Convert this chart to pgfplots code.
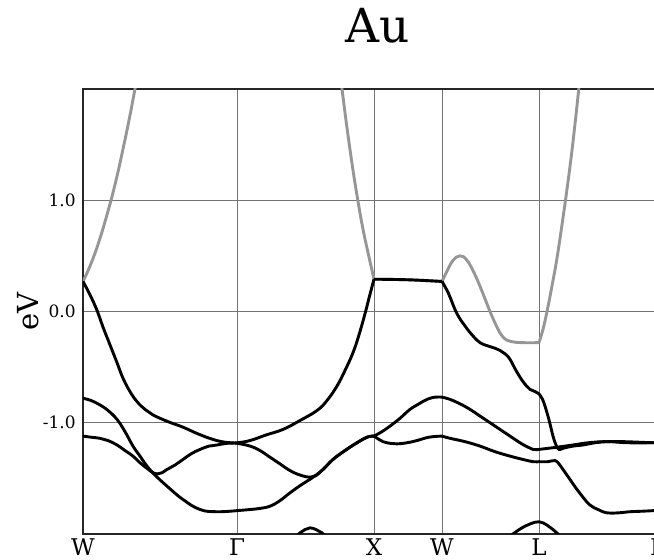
\documentclass[border=0pt]{standalone}
\usepackage{fontspec}
\setmainfont{DejaVu Serif}
\usepackage{pgfplots}
\pgfplotsset{compat=1.18}
\definecolor{bandgray}{RGB}{150,150,150}
\begin{document}
\begin{tikzpicture}
\begin{axis}[
  at={(0,0)}, anchor=south west,
  scale only axis, width=294.5pt, height=222.5pt,
  xmin=0, xmax=589, ymin=-2, ymax=2,
  xtick={0,154,291,359,456,575},
  xticklabels={W,Γ,X,W,L,Γ},
  ytick={-1,0,1}, yticklabels={-1.0,0.0,1.0},
  major tick length=0pt,
  grid=major, grid style={black!55, line width=0.5pt},
  axis line style={black!85, line width=0.7pt},
  xticklabel style={font=\fontsize{11.5}{13}\selectfont, inner sep=0pt, anchor=north, yshift=-2pt},
  yticklabel style={font=\fontsize{8.5}{10}\selectfont, inner sep=0pt, anchor=east, xshift=-3.5pt},
  title={Au}, title style={font=\fontsize{23.5}{26}\selectfont, at={(axis description cs:0.5,1.1034)}, anchor=base, inner sep=0pt, yshift=-6pt},
  ylabel={eV}, ylabel style={font=\fontsize{14.5}{16}\selectfont, at={(axis description cs:-0.0934,0.5)}, anchor=center, inner sep=0pt},
  no markers,
  every axis plot/.append style={line width=1.45pt, smooth, tension=0.7},
]
% gray band
\addplot[bandgray] coordinates {(0,0.27)(8,0.43)(16,0.63)(24,0.87)(32,1.14)(40,1.46)(48,1.81)(56,2.2)};
\addplot[bandgray] coordinates {(255,2.28)(259,2.0)(264,1.65)(270,1.27)(275,0.99)(280,0.74)(286,0.49)(291,0.29)};
\addplot[bandgray] coordinates {(291,0.29)(325,0.285)(359,0.27)};
\addplot[bandgray] coordinates {(359,0.27)(365,0.38)(370,0.46)(377,0.50)(384,0.46)(392,0.33)(400,0.16)(407,0.0)(414,-0.14)(420,-0.23)(428,-0.27)(440,-0.28)(456,-0.28)};
\addplot[bandgray] coordinates {(456,-0.28)(460,-0.16)(464,0.0)(469,0.23)(474,0.48)(479,0.78)(484,1.1)(489,1.45)(494,1.85)(498,2.2)};
% W - Gamma
\addplot[black] coordinates {(0,0.27)(7,0.15)(14,0.01)(20,-0.14)(27,-0.30)(34,-0.46)(40,-0.60)(47,-0.72)(54,-0.81)(62,-0.88)(70,-0.93)(85,-0.99)(100,-1.04)(115,-1.10)(130,-1.15)(142,-1.175)(154,-1.185)(167,-1.21)(177,-1.25)(187,-1.31)(197,-1.37)(207,-1.43)(217,-1.47)(227,-1.49)(233,-1.475)(240,-1.42)(250,-1.33)(262,-1.25)(274,-1.18)(284,-1.13)(291,-1.12)};
\addplot[black] coordinates {(0,-0.78)(8,-0.80)(17,-0.84)(25,-0.89)(34,-0.97)(42,-1.08)(50,-1.21)(57,-1.30)(64,-1.39)(72,-1.47)(84,-1.57)(100,-1.69)(117,-1.78)(134,-1.80)(154,-1.79)};
\addplot[black] coordinates {(0,-1.12)(8,-1.13)(17,-1.14)(25,-1.16)(34,-1.20)(42,-1.25)(50,-1.30)(57,-1.36)(64,-1.41)(70,-1.45)(74,-1.46)(79,-1.45)(84,-1.42)(92,-1.38)(100,-1.33)(108,-1.28)(117,-1.24)(126,-1.21)(134,-1.20)(144,-1.185)(154,-1.18)(167,-1.16)(183,-1.11)(200,-1.06)(217,-0.98)(234,-0.89)(244,-0.80)(254,-0.67)(262,-0.53)(270,-0.37)(276,-0.21)(282,-0.02)(286,0.12)(291,0.29)};
% Gamma - X
\addplot[black] coordinates {(154,-1.79)(167,-1.78)(177,-1.77)(187,-1.75)(197,-1.70)(207,-1.63)(218,-1.56)(230,-1.49)(240,-1.42)(250,-1.33)(262,-1.25)(274,-1.18)(284,-1.13)(291,-1.12)};
\addplot[black] coordinates {(205,-2.1)(212,-2.03)(217,-1.99)(222,-1.96)(227,-1.945)(233,-1.96)(239,-1.99)(244,-2.03)(250,-2.1)};
% X - W
\addplot[black] coordinates {(291,0.29)(325,0.285)(359,0.27)};
\addplot[black] coordinates {(291,-1.12)(299,-1.08)(307,-1.03)(317,-0.96)(327,-0.88)(336,-0.83)(344,-0.79)(352,-0.77)(359,-0.77)};
\addplot[black] coordinates {(291,-1.12)(296,-1.15)(300,-1.17)(307,-1.185)(314,-1.19)(324,-1.18)(334,-1.16)(346,-1.13)(359,-1.12)};
% W - L
\addplot[black] coordinates {(359,0.27)(364,0.19)(367,0.13)(374,-0.02)(382,-0.13)(390,-0.22)(397,-0.28)(405,-0.31)(412,-0.33)(417,-0.35)(422,-0.38)(427,-0.43)(433,-0.53)(440,-0.63)(447,-0.70)(452,-0.72)(456,-0.74)};
\addplot[black] coordinates {(359,-0.77)(367,-0.79)(377,-0.83)(387,-0.88)(397,-0.94)(407,-1.00)(417,-1.06)(427,-1.12)(437,-1.18)(445,-1.22)(450,-1.24)(456,-1.24)};
\addplot[black] coordinates {(359,-1.12)(367,-1.14)(382,-1.17)(397,-1.21)(412,-1.26)(427,-1.30)(440,-1.33)(450,-1.35)(456,-1.35)};
\addplot[black] coordinates {(415,-2.12)(423,-2.05)(430,-2.0)(438,-1.95)(447,-1.91)(456,-1.89)(464,-1.92)(470,-1.96)(475,-2.0)(481,-2.06)(488,-2.12)};
% L - Gamma
\addplot[black] coordinates {(456,-0.74)(460,-0.80)(464,-0.91)(467,-1.01)(470,-1.12)(473,-1.20)(476,-1.24)(480,-1.23)(490,-1.21)(500,-1.20)(512,-1.18)(524,-1.17)(540,-1.17)(556,-1.175)(571,-1.18)(589,-1.18)};
\addplot[black] coordinates {(456,-1.24)(465,-1.23)(474,-1.22)(490,-1.20)(505,-1.18)(524,-1.17)(545,-1.18)(571,-1.18)(589,-1.18)};
\addplot[black] coordinates {(456,-1.35)(465,-1.35)(472,-1.34)(476,-1.37)(480,-1.42)(487,-1.51)(494,-1.60)(500,-1.67)(507,-1.74)(515,-1.78)(524,-1.81)(535,-1.81)(547,-1.80)(560,-1.795)(571,-1.79)(589,-1.78)};
\end{axis}
\pgfresetboundingbox
\useasboundingbox (-41.5pt,-13pt) rectangle (285.5pt,267pt);
\end{tikzpicture}
\end{document}
